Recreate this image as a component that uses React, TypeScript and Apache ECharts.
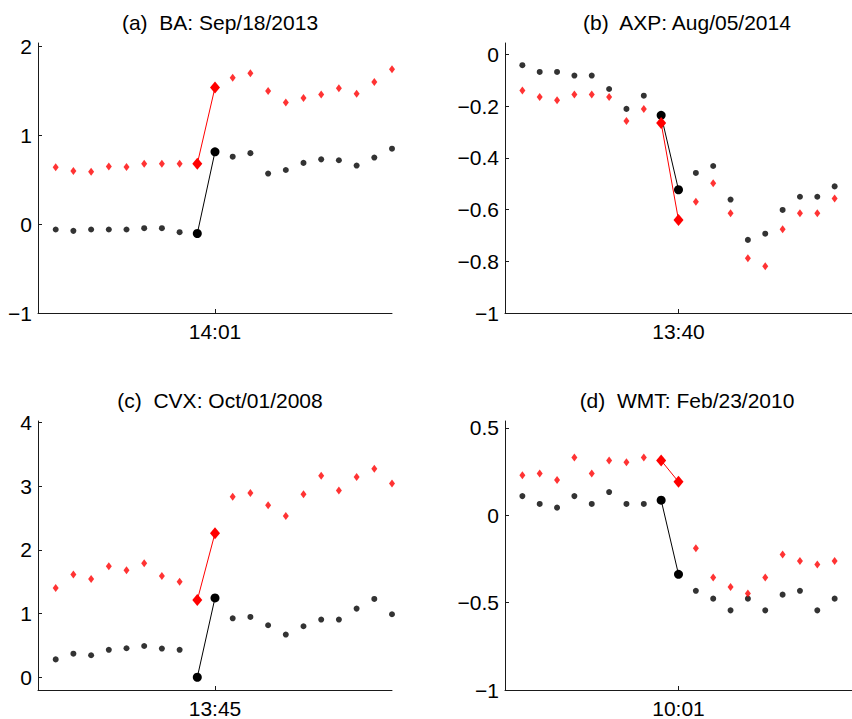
import React, { useEffect, useRef } from "react";
import * as echarts from "echarts";

const panelTitles = [
  "(a)  BA: Sep/18/2013",
  "(b)  AXP: Aug/05/2014",
  "(c)  CVX: Oct/01/2008",
  "(d)  WMT: Feb/23/2010",
];
const timeLabels = ["14:01", "13:40", "13:45", "10:01"];
const jumpIndex = 8;

const baBlack = [-0.06, -0.075, -0.06, -0.06, -0.06, -0.045, -0.045, -0.09, -0.105, 0.815, 0.76, 0.8, 0.57, 0.61, 0.69, 0.73, 0.72, 0.66, 0.75, 0.85];
const baRed = [0.64, 0.6, 0.59, 0.65, 0.645, 0.68, 0.68, 0.68, 0.68, 1.54, 1.65, 1.7, 1.5, 1.37, 1.42, 1.46, 1.53, 1.47, 1.6, 1.745];

const axpBlack = [-0.041, -0.067, -0.067, -0.081, -0.081, -0.133, -0.21, -0.159, -0.235, -0.523, -0.458, -0.431, -0.561, -0.717, -0.693, -0.601, -0.55, -0.55, -0.51];
const axpRed = [-0.139, -0.164, -0.177, -0.154, -0.154, -0.164, -0.257, -0.21, -0.265, -0.64, -0.569, -0.498, -0.614, -0.788, -0.819, -0.676, -0.614, -0.614, -0.557];

const cvxBlack = [0.28, 0.37, 0.345, 0.43, 0.455, 0.49, 0.45, 0.43, 0.0, 1.245, 0.925, 0.946, 0.816, 0.67, 0.8, 0.905, 0.905, 1.077, 1.229, 0.988];
const cvxRed = [1.4, 1.61, 1.54, 1.74, 1.68, 1.79, 1.59, 1.5, 1.21, 2.26, 2.83, 2.89, 2.7, 2.53, 2.87, 3.16, 2.93, 3.14, 3.27, 3.04];

const wmtBlack = [0.11, 0.065, 0.044, 0.11, 0.065, 0.133, 0.065, 0.065, 0.087, -0.338, -0.432, -0.477, -0.544, -0.477, -0.544, -0.454, -0.432, -0.544, -0.477];
const wmtRed = [0.23, 0.24, 0.202, 0.331, 0.24, 0.314, 0.304, 0.331, 0.314, 0.192, -0.188, -0.356, -0.411, -0.447, -0.356, -0.224, -0.262, -0.281, -0.262];

const yTicksA = [-1, 0, 1, 2];
const yTicksB = [-1, -0.8, -0.6, -0.4, -0.2, 0];
const yTicksC = [0, 1, 2, 3, 4];
const yTicksD = [-1, -0.5, 0, 0.5];

const panels = [
  { black: baBlack, red: baRed, ticks: yTicksA, ymin: -1, ymax: 2.04, left: 38, top: 43 },
  { black: axpBlack, red: axpRed, ticks: yTicksB, ymin: -1, ymax: 0.045, left: 505, top: 43 },
  { black: cvxBlack, red: cvxRed, ticks: yTicksC, ymin: -0.2, ymax: 4.02, left: 38, top: 421 },
  { black: wmtBlack, red: wmtRed, ticks: yTicksD, ymin: -1, ymax: 0.54, left: 505, top: 421 },
];

const FONT = "'Liberation Sans', Arial, Helvetica, sans-serif";
const PW = 354;
const PH = 270;
const AXIS = "#1a1a1a";

const fmt = (v: number) => {
  const r = Math.round(v * 100) / 100;
  return String(r).replace("-", "\u2212");
};

export default function App() {
  const ref = useRef<HTMLDivElement>(null);
  useEffect(() => {
    if (!ref.current) return;
    const chart = echarts.init(ref.current, null, { renderer: "svg" });
    const grid: any[] = [];
    const xAxis: any[] = [];
    const yAxis: any[] = [];
    const title: any[] = [];
    const series: any[] = [];
    panels.forEach((p, k) => {
      grid.push({ left: p.left, top: p.top, width: PW, height: PH, containLabel: false });
      title.push({
        text: panelTitles[k],
        left: p.left + PW / 2,
        top: p.top - 36,
        textAlign: "center",
        textStyle: { fontFamily: FONT, fontSize: 21, fontWeight: "normal", color: "#000" },
      });
      xAxis.push({
        type: "value",
        gridIndex: k,
        min: -1,
        max: 19,
        splitLine: { show: false },
        axisLine: { show: true, onZero: false, lineStyle: { color: AXIS, width: 1 } },
        axisTick: { show: true, inside: true, length: 4, customValues: [9], lineStyle: { color: AXIS } },
        axisLabel: {
          show: true,
          customValues: [9],
          formatter: () => timeLabels[k],
          fontFamily: FONT,
          fontSize: 21,
          color: "#000",
          margin: 8,
        },
      });
      yAxis.push({
        type: "value",
        gridIndex: k,
        min: p.ymin,
        max: p.ymax,
        splitLine: { show: false },
        axisLine: { show: true, onZero: false, lineStyle: { color: AXIS, width: 1 } },
        axisTick: { show: true, inside: true, length: 4, customValues: p.ticks, lineStyle: { color: AXIS } },
        axisLabel: {
          show: true,
          customValues: p.ticks,
          formatter: (v: number) => fmt(v),
          fontFamily: FONT,
          fontSize: 21,
          color: "#000",
          margin: 6,
        },
      });
      const isJump = (i: number) => i === jumpIndex || i === jumpIndex + 1;
      const pts = (arr: number[]) => arr.map((v, i) => [i, v]);
      series.push({
        type: "scatter",
        xAxisIndex: k,
        yAxisIndex: k,
        data: pts(p.black).filter((_, i) => !isJump(i)),
        symbol: "circle",
        symbolSize: 6,
        itemStyle: { color: "#000" },
      });
      series.push({
        type: "line",
        xAxisIndex: k,
        yAxisIndex: k,
        data: pts(p.black).filter((_, i) => isJump(i)),
        symbol: "circle",
        symbolSize: 9,
        showSymbol: true,
        lineStyle: { color: "#000", width: 1 },
        itemStyle: { color: "#000" },
      });
      series.push({
        type: "scatter",
        xAxisIndex: k,
        yAxisIndex: k,
        data: pts(p.red).filter((_, i) => !isJump(i)),
        symbol: "diamond",
        symbolSize: [6, 8],
        itemStyle: { color: "#ff0000" },
      });
      series.push({
        type: "line",
        xAxisIndex: k,
        yAxisIndex: k,
        data: pts(p.red).filter((_, i) => isJump(i)),
        symbol: "diamond",
        symbolSize: [10, 12],
        showSymbol: true,
        lineStyle: { color: "#ff0000", width: 1 },
        itemStyle: { color: "#ff0000" },
      });
    });
    chart.setOption({
      animation: false,
      backgroundColor: "#fff",
      title,
      grid,
      xAxis,
      yAxis,
      series,
    });
    return () => chart.dispose();
  }, []);
  return (
    <div
      ref={ref}
      style={{ position: "fixed", left: 0, top: 0, width: 852, height: 719, background: "#fff" }}
    />
  );
}
